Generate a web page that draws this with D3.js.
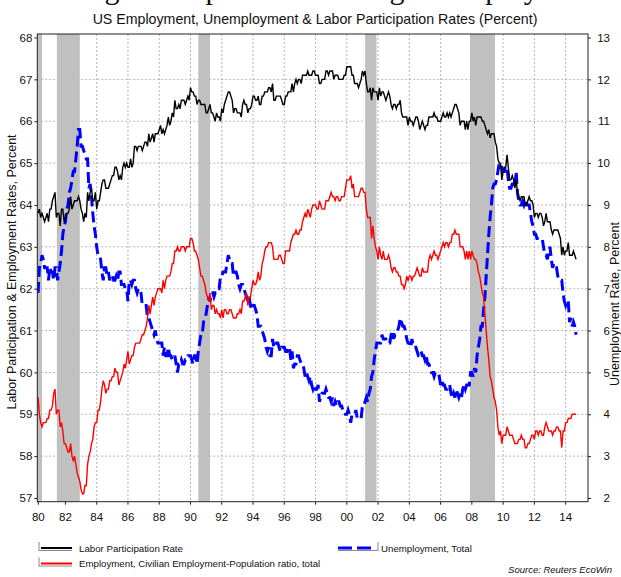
<!DOCTYPE html>
<html><head><meta charset="utf-8">
<script src="https://cdn.jsdelivr.net/npm/d3@7"></script>
<style>body{margin:0;background:#fff} svg{display:block} text{font-family:"Liberation Sans",Arial,sans-serif;fill:#111}</style>
</head><body><svg id="c" width="621" height="577"></svg>
<script>
// ---- data (monthly, starting Apr 1980) ----
const startYear = 1980, startMonth = 3;
const partRate = [
63.8,63.9,63.7,63.8,63.7,63.6,63.7,63.8,63.6,
63.9,63.9,64.1,64.2,64.3,63.7,63.8,63.8,63.5,63.9,63.9,63.6,
63.7,63.8,63.8,63.9,64.2,63.9,64.0,64.1,64.1,64.1,64.2,64.1,
63.9,63.8,63.6,63.8,63.7,64.3,64.1,64.3,64.4,64.1,64.1,64.3,
63.9,64.1,64.1,64.3,64.5,64.6,64.6,64.4,64.4,64.4,64.5,64.6,
64.7,64.7,64.9,64.9,64.8,64.6,64.7,64.6,64.9,65.0,64.9,65.0,
64.9,64.9,65.1,64.9,65.0,65.4,65.4,65.3,65.4,65.4,65.4,65.3,
65.4,65.5,65.5,65.4,65.7,65.5,65.6,65.7,65.5,65.7,65.7,65.7,
65.8,65.9,65.7,65.8,65.7,65.8,65.9,66.1,65.9,66.0,66.2,66.1,
66.5,66.3,66.3,66.4,66.3,66.5,66.5,66.5,66.4,66.5,66.6,66.5,
66.8,66.7,66.7,66.6,66.6,66.4,66.5,66.5,66.4,66.4,66.4,66.4,
66.2,66.2,66.3,66.4,66.2,66.2,66.1,66.0,66.2,66.1,66.1,66.0,
66.3,66.2,66.4,66.5,66.6,66.7,66.7,66.6,66.5,66.2,66.3,66.3,
66.2,66.2,66.2,66.1,66.4,66.5,66.4,66.4,66.2,66.3,66.3,66.4,
66.6,66.6,66.5,66.5,66.6,66.4,66.4,66.6,66.6,66.7,66.7,66.7,
66.8,66.8,66.7,66.9,66.5,66.5,66.6,66.6,66.6,66.6,66.5,66.4,
66.4,66.6,66.6,66.7,66.7,66.7,66.9,66.7,66.9,67.0,66.9,67.0,
67.0,66.9,67.1,67.1,67.1,67.1,67.2,67.1,67.1,67.1,67.2,67.2,
67.1,67.1,67.1,66.9,66.9,67.0,67.0,67.0,67.2,67.2,67.1,67.2,
67.2,67.2,67.0,67.1,67.1,67.1,67.0,67.0,67.0,67.0,67.1,67.1,
67.3,67.3,67.3,67.3,67.1,67.1,66.9,66.9,66.9,66.8,66.9,67.0,
67.2,67.1,67.2,66.9,66.7,66.7,66.8,66.5,66.8,66.7,66.7,66.7,
66.5,66.8,66.6,66.7,66.7,66.6,66.5,66.6,66.7,66.6,66.4,66.3,
66.4,66.4,66.3,66.4,66.4,66.5,66.2,66.1,66.1,66.1,66.1,65.9,
66.1,66.0,66.0,65.9,66.0,66.1,66.1,66.0,65.8,65.9,66.0,65.9,
65.8,65.9,65.9,66.1,66.1,66.1,66.1,66.2,66.1,66.1,66.0,66.0,
66.0,66.1,66.2,66.1,66.1,66.2,66.1,66.2,66.1,66.2,66.3,66.4,
66.4,66.3,66.2,65.9,66.0,66.0,66.0,65.8,66.0,65.8,66.0,66.0,
66.2,66.0,66.1,65.9,66.1,66.1,66.1,66.1,66.0,66.0,65.9,65.8,
65.7,65.8,65.6,65.7,65.7,65.7,65.5,65.4,65.1,65.0,65.0,64.6,
64.8,64.9,64.9,65.2,64.9,64.6,64.6,64.7,64.6,64.4,64.6,64.3,
64.2,64.1,64.2,64.2,64.2,64.0,64.0,64.1,64.2,64.1,64.1,64.0,
63.7,63.8,63.8,63.7,63.8,63.8,63.7,63.5,63.6,63.8,63.6,63.6,
63.6,63.4,63.3,63.4,63.4,63.4,63.4,63.3,63.2,62.8,63.0,62.8,
62.9,62.9,63.1,62.8,62.8,62.8,62.9,62.8,62.7
];
const empRatio = [
59.4,59.0,58.8,58.7,58.8,58.8,58.8,58.9,58.9,
59.1,59.1,59.2,59.5,59.6,59.0,59.1,59.1,58.7,58.8,58.6,58.3,
58.3,58.2,58.1,58.1,58.3,58.0,57.9,58.0,57.8,57.6,57.5,57.4,
57.2,57.1,57.1,57.3,57.3,57.8,58.0,58.1,58.3,58.4,58.7,58.8,
58.8,59.1,59.1,59.3,59.6,59.8,59.7,59.5,59.6,59.6,59.8,59.8,
59.9,59.9,60.1,60.0,60.0,59.7,59.8,59.9,60.0,60.2,60.1,60.3,
60.5,60.2,60.3,60.4,60.4,60.6,60.7,60.7,60.7,60.7,60.8,60.9,
60.9,61.0,61.1,61.3,61.6,61.4,61.6,61.8,61.6,61.8,61.9,62.0,
62.0,62.0,61.9,62.2,62.0,62.2,62.3,62.3,62.3,62.4,62.6,62.6,
62.9,62.9,63.0,62.9,62.9,63.0,63.0,63.0,62.9,63.0,63.0,63.0,
63.2,63.2,63.1,62.9,62.9,62.8,62.7,62.5,62.3,62.3,62.2,62.1,
61.9,61.8,61.7,61.9,61.5,61.6,61.6,61.4,61.5,61.4,61.4,61.3,
61.5,61.3,61.5,61.5,61.4,61.4,61.5,61.5,61.4,61.3,61.3,61.3,
61.4,61.4,61.5,61.4,61.7,61.7,61.8,61.9,61.6,61.8,61.8,62.0,
62.2,62.1,62.1,62.2,62.4,62.2,62.3,62.6,62.7,62.9,63.0,63.0,
63.1,63.1,63.1,63.0,62.7,62.7,62.7,62.7,62.8,62.8,62.7,62.6,
62.6,62.9,62.9,62.9,62.9,63.1,63.2,63.3,63.3,63.4,63.3,63.3,
63.4,63.4,63.6,63.7,63.8,63.7,63.9,63.8,63.7,63.9,64.0,64.0,
64.0,63.9,63.9,64.1,64.0,63.9,63.9,63.9,64.1,64.1,64.1,64.2,
64.3,64.2,64.2,64.1,64.2,64.2,64.1,64.1,64.2,64.2,64.2,64.4,
64.6,64.6,64.6,64.7,64.4,64.5,64.2,64.2,64.2,64.2,64.3,64.4,
64.4,64.3,64.3,63.9,63.7,63.7,63.7,63.2,63.5,63.2,63.0,62.9,
62.7,63.0,62.8,62.7,62.9,62.7,62.7,62.7,62.8,62.7,62.5,62.4,
62.5,62.5,62.4,62.4,62.3,62.3,62.1,62.1,62.0,62.1,62.3,62.2,
62.3,62.3,62.2,62.3,62.3,62.4,62.5,62.4,62.3,62.3,62.5,62.4,
62.4,62.4,62.4,62.7,62.8,62.7,62.8,62.9,62.8,62.8,62.7,62.8,
62.9,63.0,63.1,63.0,63.1,63.1,63.0,63.1,63.1,63.3,63.3,63.4,
63.3,63.3,63.3,63.0,63.0,63.0,62.9,62.7,62.9,62.7,62.9,62.7,
62.9,62.8,62.7,62.7,62.6,62.4,62.3,62.1,61.9,61.8,61.4,61.0,
60.6,60.3,59.9,59.8,59.6,59.4,59.3,59.1,58.7,58.5,58.6,58.3,
58.5,58.5,58.5,58.7,58.6,58.5,58.5,58.5,58.4,58.3,58.3,58.3,
58.4,58.4,58.5,58.4,58.4,58.2,58.2,58.3,58.3,58.4,58.5,58.5,
58.4,58.6,58.6,58.5,58.6,58.6,58.5,58.5,58.7,58.8,58.7,58.6,
58.6,58.6,58.5,58.6,58.6,58.7,58.7,58.6,58.6,58.2,58.6,58.6,
58.8,58.8,58.9,58.9,58.9,59.0,59.0,59.0,59.0
];
const unemp = [
6.9,7.5,7.6,7.8,7.7,7.5,7.5,7.5,7.2,
7.5,7.4,7.4,7.2,7.5,7.5,7.2,7.4,7.6,7.9,8.3,8.5,
8.6,8.9,9.0,9.3,9.4,9.6,9.8,9.8,10.1,10.4,10.8,10.8,
10.4,10.4,10.3,10.2,10.1,10.1,9.4,9.5,9.2,8.8,8.5,8.3,
8.0,7.8,7.8,7.7,7.4,7.2,7.5,7.5,7.3,7.4,7.2,7.3,
7.3,7.2,7.2,7.3,7.2,7.4,7.4,7.1,7.1,7.1,7.0,7.0,
6.7,7.2,7.2,7.1,7.2,7.2,7.0,6.9,7.0,7.0,6.9,6.6,
6.6,6.6,6.6,6.3,6.3,6.2,6.1,6.0,5.9,6.0,5.8,5.7,
5.7,5.7,5.7,5.4,5.6,5.4,5.4,5.6,5.4,5.4,5.3,5.3,
5.4,5.2,5.0,5.2,5.2,5.3,5.2,5.2,5.3,5.3,5.4,5.4,
5.4,5.3,5.2,5.4,5.4,5.2,5.5,5.7,5.9,5.9,6.2,6.3,
6.4,6.6,6.8,6.7,6.9,6.9,6.8,6.9,6.9,7.0,7.0,7.3,
7.3,7.4,7.4,7.4,7.6,7.8,7.7,7.6,7.6,7.3,7.4,7.4,
7.3,7.1,7.0,7.1,7.1,7.0,6.9,6.8,6.7,6.8,6.6,6.5,
6.6,6.6,6.5,6.4,6.1,6.1,6.1,6.0,5.9,5.8,5.6,5.5,
5.6,5.4,5.4,5.8,5.6,5.6,5.7,5.7,5.6,5.5,5.6,5.6,
5.6,5.5,5.5,5.6,5.6,5.3,5.5,5.1,5.2,5.2,5.4,5.4,
5.3,5.2,5.2,5.1,4.9,5.0,4.9,4.8,4.9,4.7,4.6,4.7,
4.6,4.6,4.7,4.3,4.4,4.5,4.5,4.5,4.6,4.5,4.4,4.4,
4.3,4.4,4.2,4.3,4.2,4.3,4.3,4.2,4.2,4.1,4.1,4.0,
4.0,4.1,4.0,3.8,4.0,4.0,4.0,4.1,3.9,3.9,3.9,3.9,
4.2,4.2,4.3,4.4,4.3,4.5,4.6,4.9,5.0,5.3,5.5,5.7,
5.7,5.7,5.7,5.9,5.8,5.8,5.8,5.7,5.7,5.7,5.9,6.0,
5.8,5.9,5.9,6.0,6.1,6.3,6.2,6.1,6.1,6.0,5.8,5.7,
5.7,5.6,5.8,5.6,5.6,5.6,5.5,5.4,5.4,5.5,5.4,5.4,
5.3,5.4,5.2,5.2,5.1,5.0,5.0,4.9,5.0,5.0,5.0,4.9,
4.7,4.8,4.7,4.7,4.6,4.6,4.7,4.7,4.5,4.4,4.5,4.4,
4.6,4.5,4.4,4.5,4.4,4.6,4.7,4.6,4.7,4.7,4.7,5.0,
5.0,4.9,5.1,5.0,5.4,5.6,5.8,6.1,6.1,6.5,6.8,7.3,
7.8,8.3,8.7,9.0,9.4,9.5,9.5,9.6,9.8,10.0,9.9,9.9,
9.8,9.8,9.9,9.9,9.6,9.4,9.4,9.5,9.5,9.4,9.8,9.3,
9.1,9.0,9.0,9.1,9.0,9.1,9.0,9.0,9.0,8.8,8.6,8.5,
8.3,8.3,8.2,8.2,8.2,8.2,8.2,8.0,7.8,7.8,7.7,7.9,
8.0,7.7,7.5,7.6,7.5,7.5,7.3,7.2,7.2,7.2,6.9,6.7,
6.6,6.7,6.7,6.2,6.3,6.1,6.2,6.1,5.9
];
const recessions = [[1980.0,1980.5],[1981.45,1982.92],[1990.5,1991.25],[2001.17,2001.9],[2007.88,2009.48]];
const xTicks = d3.range(1980, 2015, 2);
const leftTicks = d3.range(57, 69);
const rightTicks = d3.range(2, 14);
const titleText = "Declining Participation Flattering Unemployment";
const subtitleText = "US Employment, Unemployment & Labor Participation Rates (Percent)";
const leftTitle = "Labor Participation & Employment Rates, Percent";
const rightTitle = "Unemployment Rate, Percent";
const legendItems = [
  {label:"Labor Participation Rate", color:"#000", dash:null},
  {label:"Employment, Civilian Employment-Population ratio, total", color:"#ff0000", dash:null},
  {label:"Unemployment, Total", color:"#0000ff", dash:"11,5"}
];
const sourceText = "Source: Reuters EcoWin";

// ---- layout ----
const svg = d3.select("#c");
const frame = {l:37.3, r:588, t:34, b:501.7};
const x = d3.scaleLinear().domain([1980.2, 2015.43]).range([frame.l, frame.r]);
const yL = d3.scaleLinear().domain([57, 68]).range([498, 37.5]);
const yR = d3.scaleLinear().domain([2, 13]).range([498, 37.5]);
const dateOf = i => startYear + (startMonth + i)/12;

svg.append("defs").append("clipPath").attr("id","clip")
  .append("rect").attr("x",frame.l).attr("y",frame.t).attr("width",frame.r-frame.l).attr("height",frame.b-frame.t);

// title (cut off at top) and subtitle
svg.append("text").attr("x",300).attr("y",-1).attr("text-anchor","middle")
  .style("font-family","'Liberation Serif','Times New Roman',serif").style("font-size","30px").text(titleText);
svg.append("text").attr("x",315).attr("y",24).attr("text-anchor","middle").style("font-size","14.2px").text(subtitleText);

// grid
const gGrid = svg.append("g").attr("stroke","#b4b4b4").attr("stroke-dasharray","2,2").attr("stroke-width",1);
gGrid.selectAll("line.h").data(leftTicks.slice(1,-1)).enter().append("line")
  .attr("x1",frame.l).attr("x2",frame.r).attr("y1",d=>yL(d)).attr("y2",d=>yL(d));
gGrid.selectAll("line.v").data(xTicks.filter(t=>x(t)>frame.l+1)).enter().append("line")
  .attr("y1",frame.t).attr("y2",frame.b).attr("x1",d=>x(d)).attr("x2",d=>x(d));

// recessions
svg.append("g").attr("clip-path","url(#clip)").selectAll("rect").data(recessions).enter().append("rect")
  .attr("x",d=>x(d[0])).attr("width",d=>x(d[1])-x(d[0])).attr("y",frame.t).attr("height",frame.b-frame.t)
  .attr("fill","#c0c0c0");

// lines
const gLines = svg.append("g").attr("clip-path","url(#clip)");
const lineL = d3.line().x((d,i)=>x(dateOf(i))).y(d=>yL(d));
const lineR = d3.line().x((d,i)=>x(dateOf(i))).y(d=>yR(d));
gLines.append("path").attr("d",lineR(unemp)).attr("fill","none").attr("stroke","#0000ff")
  .attr("stroke-width",3).attr("stroke-dasharray","11,5");
gLines.append("path").attr("d",lineL(empRatio)).attr("fill","none").attr("stroke","#ff0000").attr("stroke-width",1.4);
gLines.append("path").attr("d",lineL(partRate)).attr("fill","none").attr("stroke","#000").attr("stroke-width",1.4);

// frame
svg.append("rect").attr("x",frame.l).attr("y",frame.t).attr("width",frame.r-frame.l).attr("height",frame.b-frame.t)
  .attr("fill","none").attr("stroke","#222").attr("stroke-width",1);

// axes
const axL = svg.append("g").attr("transform",`translate(${frame.l},0)`)
  .call(d3.axisLeft(yL).tickValues(leftTicks).tickSize(3).tickPadding(2).tickFormat(d3.format("d")));
const axR = svg.append("g").attr("transform",`translate(${frame.r},0)`)
  .call(d3.axisRight(yR).tickValues(rightTicks).tickSize(3).tickPadding(19).tickFormat(d3.format("d")));
axR.selectAll("text").attr("text-anchor","end");
const axB = svg.append("g").attr("transform",`translate(0,${frame.b})`)
  .call(d3.axisBottom(x).tickValues(xTicks).tickSize(3).tickPadding(8).tickFormat(d=>String(d%100).padStart(2,"0")));
axB.selectAll(".tick").attr("transform",d=>`translate(${Math.max(x(d),frame.l+1)},0)`);
[axL,axR,axB].forEach(a=>{a.select(".domain").remove(); a.selectAll("line").attr("stroke","#222");
  a.selectAll("text").style("font-size","11.5px").style("font-family","'Liberation Sans',Arial,sans-serif").attr("fill","#111");});

// axis titles
svg.append("text").attr("transform","translate(15.5,272) rotate(-90)").attr("text-anchor","middle")
  .style("font-size","12.5px").text(leftTitle);
svg.append("text").attr("transform","translate(619,304) rotate(-90)").attr("text-anchor","middle")
  .style("font-size","12.5px").text(rightTitle);

// legend
const lg = svg.append("g").style("font-size","9.7px");
function sample(x1,x2,y,color,dash,bracketSide){
  lg.append("line").attr("x1",x1).attr("x2",x2).attr("y1",y+2.5).attr("y2",y+2.5).attr("stroke","#888").attr("stroke-width",1);
  const bx = bracketSide==="left"?x1:x2;
  lg.append("line").attr("x1",bx).attr("x2",bx).attr("y1",y-6).attr("y2",y+3).attr("stroke","#888").attr("stroke-width",1);
  lg.append("line").attr("x1",bracketSide==="left"?x1+2:x1).attr("x2",bracketSide==="left"?x2:x2-2).attr("y1",y).attr("y2",y)
    .attr("stroke",color).attr("stroke-width",dash?3:2).attr("stroke-dasharray",dash);
}
sample(39,72,548,legendItems[0].color,null,"left");
lg.append("text").attr("x",79).attr("y",551.5).text(legendItems[0].label);
sample(39,72,563.5,legendItems[1].color,null,"left");
lg.append("text").attr("x",79).attr("y",567).text(legendItems[1].label);
sample(338,378,548,legendItems[2].color,"14,5","right");
lg.append("text").attr("x",381).attr("y",551.5).text(legendItems[2].label);

svg.append("text").attr("x",612).attr("y",573).attr("text-anchor","end").style("font-size","9.5px")
  .style("font-style","italic").text(sourceText);
</script></body></html>
